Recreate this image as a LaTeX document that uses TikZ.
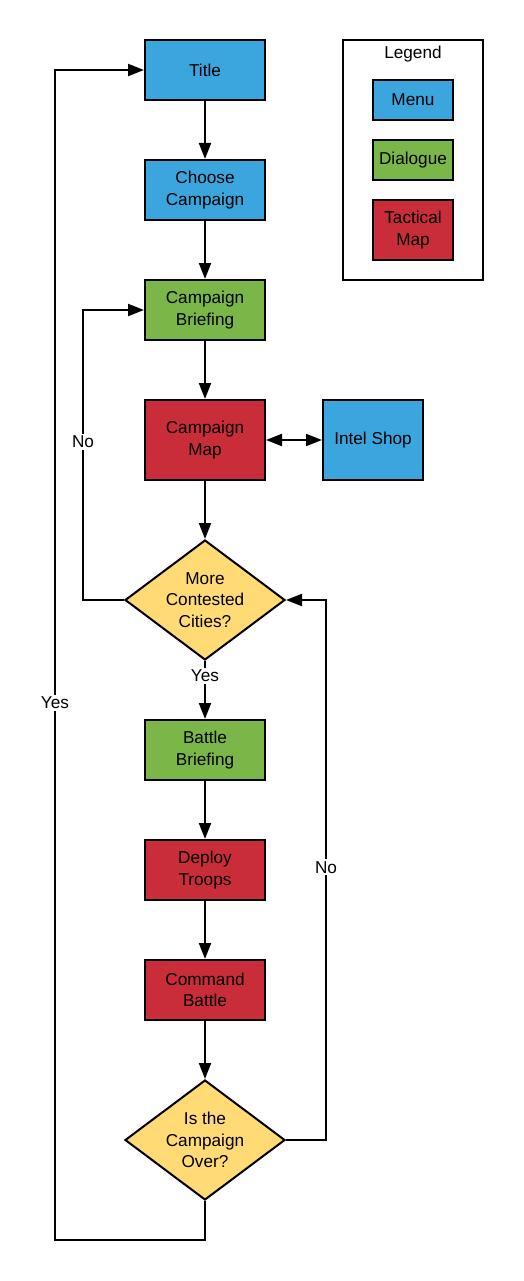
\documentclass[tikz,border=0pt]{standalone}
\usepackage{fontspec}
\setmainfont{Liberation Sans}
\usetikzlibrary{arrows.meta,shapes.geometric}
\definecolor{cblue}{HTML}{3AA6DD}
\definecolor{cgreen}{HTML}{7AB648}
\definecolor{cred}{HTML}{C92D39}
\definecolor{cyellow}{HTML}{FFDA75}
\tikzset{
  txt/.style={font=\fontsize{17.2}{21.5}\selectfont},
  box/.style={draw=black, line width=2pt, minimum width=120pt, minimum height=60pt, inner sep=0pt, align=center, txt},
  menu/.style={box, fill=cblue},
  dlg/.style={box, fill=cgreen},
  tac/.style={box, fill=cred, minimum height=80pt},
  dec/.style={draw=black, line width=2pt, fill=cyellow, diamond, aspect=1.3333, minimum width=160pt, minimum height=120pt, inner sep=-14pt, align=center, txt},
  conn/.style={line width=2pt, -{Triangle[length=16pt,width=12pt]}},
  lbl/.style={fill=white, inner sep=2pt, txt}
}
\begin{document}
\begin{tikzpicture}[x=1pt,y=-1pt]
\useasboundingbox (0,0) rectangle (523,1281);
% legend
\node[draw=black, line width=2pt, minimum width=140pt, minimum height=240pt, inner sep=0pt] (legend) at (413,160) {};
\node[txt] (legtitle) at (413,54) {Legend};
\node[menu, minimum width=80pt, minimum height=40pt] (lmenu) at (413,100) {Menu};
\node[dlg, minimum width=80pt, minimum height=40pt] (ldlg) at (413,160) {Dialogue};
\node[tac, minimum width=80pt, minimum height=60pt] (ltac) at (413,230) {Tactical\\Map};
% main flow
\node[menu] (title) at (205,70) {Title};
\node[menu] (choose) at (205,190) {Choose\\Campaign};
\node[dlg] (cbrief) at (205,310) {Campaign\\Briefing};
\node[tac] (cmap) at (205,440) {Campaign\\Map};
\node[menu, minimum width=100pt, minimum height=80pt] (intel) at (373,440) {\raisebox{2pt}{Intel Shop}};
\node[dec] (more) at (205,600) {More\\Contested\\Cities?};
\node[dlg] (bbrief) at (205,750) {Battle\\Briefing};
\node[tac, minimum height=60pt] (deploy) at (205,870) {Deploy\\Troops};
\node[tac, minimum height=60pt] (command) at (205,990) {Command\\Battle};
\node[dec] (over) at (205,1140) {Is the\\Campaign\\Over?};
\coordinate (c1) at (83,600);
\coordinate (c2) at (83,310);
\coordinate (c3) at (326,1140);
\coordinate (c4) at (326,600);
\coordinate (c5) at (205,1240);
\coordinate (c6) at (55,1240);
\coordinate (c7) at (55,70);
% connectors
\draw[conn] (title) -- (choose);
\draw[conn] (choose) -- (cbrief);
\draw[conn] (cbrief) -- (cmap);
\draw[line width=2pt, {Triangle[length=16pt,width=12pt]}-{Triangle[length=16pt,width=12pt]}] (cmap) -- (intel);
\draw[conn] (cmap) -- (more);
\draw[conn] (more.south) -- node[lbl, pos=0.26] {Yes} (bbrief);
\draw[conn] (bbrief) -- (deploy);
\draw[conn] (deploy) -- (command);
\draw[conn] (command) -- (over);
\draw[conn] (more.west) -- (c1) -- node[lbl, pos=0.545] {No} (c2) -- (cbrief.west);
\draw[conn] (over.east) -- (c3) -- node[lbl, pos=0.505] {No} (c4) -- (more.east);
\draw[conn] (over.south) -- (c5) -- (c6) -- node[lbl, pos=0.459] {Yes} (c7) -- (title.west);
\end{tikzpicture}
\end{document}
